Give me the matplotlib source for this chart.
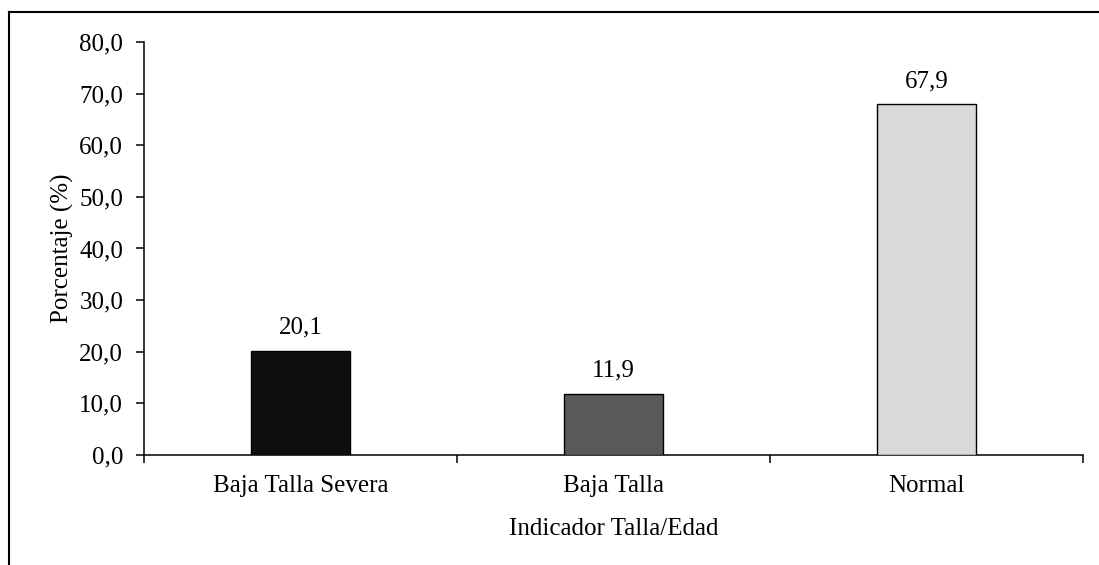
import matplotlib

matplotlib.use("Agg")
import matplotlib.pyplot as plt
from matplotlib.lines import Line2D

categorias = ["Baja Talla Severa", "Baja Talla", "Normal"]
porcentajes = [20.1, 11.9, 67.9]
colores = ["#0f0f0f", "#595959", "#d9d9d9"]
y_ticks = [0, 10, 20, 30, 40, 50, 60, 70, 80]

plt.rcParams["font.family"] = ["Liberation Serif", "DejaVu Serif"]
plt.rcParams["font.size"] = 18

fig = plt.figure(figsize=(10.99, 5.65), dpi=100)
ax = fig.add_axes([144 / 1099, 110 / 565, 939 / 1099, 413 / 565])

xs = range(len(categorias))
bars = ax.bar(xs, porcentajes, width=0.316, color=colores,
              edgecolor="black", linewidth=1.0, zorder=3)
for x, v in zip(xs, porcentajes):
    ax.annotate(f"{v:.1f}".replace(".", ","), (x, v), xytext=(0, 9),
                textcoords="offset points", ha="center", va="bottom", fontsize=18)

ax.set_xlim(-0.5, len(categorias) - 0.5)
ax.set_ylim(0, 80)
ax.set_yticks(y_ticks)
ax.set_yticklabels([f"{t:.1f}".replace(".", ",") for t in y_ticks])
ax.set_xticks(list(xs))
ax.set_xticklabels(categorias)
ax.set_xticks([i - 0.5 for i in range(len(categorias) + 1)], minor=True)
ax.tick_params(axis="x", which="major", length=0, pad=14.5)
ax.tick_params(axis="x", which="minor", length=6, width=1.1, direction="out")
ax.tick_params(axis="y", length=6, width=1.1, direction="out", pad=9)

for side in ("top", "right"):
    ax.spines[side].set_visible(False)
for side in ("left", "bottom"):
    ax.spines[side].set_linewidth(1.1)

ax.set_xlabel("Indicador Talla/Edad", labelpad=15)
ax.set_ylabel("Porcentaje (%)", labelpad=4)

# marco exterior del gráfico
fig.add_artist(Line2D([9 / 1099, 9 / 1099], [0, 1 - 12 / 565],
                      transform=fig.transFigure, color="black", linewidth=1.5))
fig.add_artist(Line2D([9 / 1099, 1], [1 - 12 / 565, 1 - 12 / 565],
                      transform=fig.transFigure, color="black", linewidth=1.5))

fig.savefig("out.png", dpi=100)
